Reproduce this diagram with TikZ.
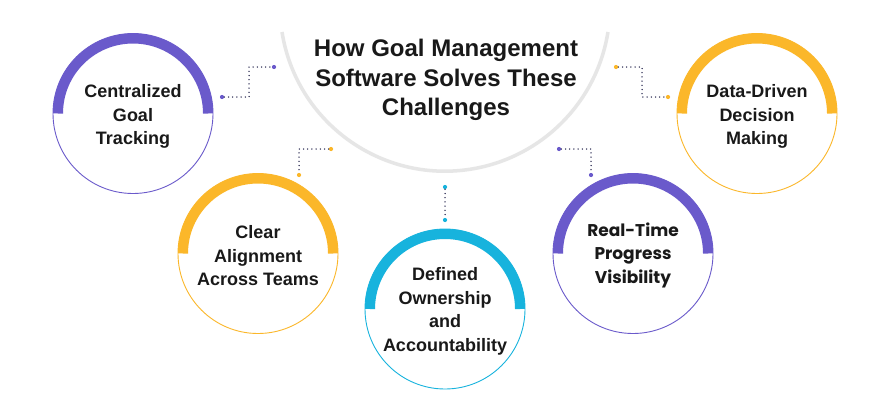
\documentclass[tikz,border=0pt]{standalone}
\usepackage{fontspec}
\setmainfont{Liberation Sans}
\newfontfamily\popp{Poppins}
\definecolor{purp}{HTML}{6A5ACB}
\definecolor{yel}{HTML}{FBB72A}
\definecolor{cyn}{HTML}{17B3DD}
\definecolor{navy}{HTML}{22224A}
\definecolor{arcgray}{HTML}{E6E6E6}
\tikzset{
  circnode/.style={circle, draw=#1, line width=0.9, minimum size=160, inner sep=0},
  ctext/.style={align=center, inner sep=0, font=\fontsize{18}{23.5}\selectfont\bfseries, text=black!90},
  dotnode/.style={circle, fill=#1, inner sep=0, minimum size=4.2},
  dotline/.style={navy, line width=1.5, line cap=round, dash pattern=on 0pt off 4.2pt},
}
\newcommand{\topband}[2]{%
  \draw[#2, line width=10] ([xshift=-75]#1.center) arc[start angle=180, end angle=360, radius=75];}
\begin{document}
\begin{tikzpicture}[x=1pt,y=-1pt]
\fill[white] (0,0) rectangle (890,415);
\useasboundingbox (0,0) rectangle (890,415);
% big gray arc
\coordinate (arcstart) at (282,32);
\draw[arcgray, line width=3.5] (arcstart) arc[start angle=171, end angle=9, radius=165];
\node[align=center, font=\fontsize{24}{29.5}\selectfont\bfseries, text=black!90] (title) at (446,80)
  {How Goal Management\\Software Solves These\\Challenges};
% circles
\node[circnode=purp] (c1) at (133,113.5) {};
\topband{c1}{purp}
\node[ctext] (t1) at ([yshift=-3]c1.center) {Centralized\\Goal\\Tracking};
\node[circnode=yel] (c2) at (258,253.5) {};
\topband{c2}{yel}
\node[ctext] (t2) at ([yshift=-2.5]c2.center) {Clear\\Alignment\\Across Teams};
\node[circnode=cyn] (c3) at (445,309) {};
\topband{c3}{cyn}
\node[ctext] (t3) at ([yshift=-2.5]c3.center) {Defined\\Ownership\\and\\Accountability};
\node[circnode=purp] (c4) at (633,253.5) {};
\topband{c4}{purp}
\node[ctext, font=\popp\fontsize{17}{23.5}\selectfont\bfseries] (t4) at ([yshift=-1.5]c4.center) {Real-Time\\Progress\\Visibility};
\node[circnode=yel] (c5) at (757,113.5) {};
\topband{c5}{yel}
\node[ctext] (t5) at ([yshift=-3]c5.center) {Data-Driven\\Decision\\Making};
% connectors
\node[dotnode=purp] (d1a) at (222,97) {};
\node[dotnode=purp] (d1b) at (274,67) {};
\draw[dotline] (d1a) -- (249,97) |- (d1b);
\node[dotnode=yel] (d2a) at (331,149) {};
\node[dotnode=yel] (d2b) at (299,175) {};
\draw[dotline] (d2a) -| (d2b);
\node[dotnode=cyn] (d3a) at (445,187) {};
\node[dotnode=cyn] (d3b) at (445,220) {};
\draw[dotline] (d3a) -- (d3b);
\node[dotnode=purp] (d4a) at (559,149) {};
\node[dotnode=purp] (d4b) at (591,175) {};
\draw[dotline] (d4a) -| (d4b);
\node[dotnode=yel] (d5a) at (616,67) {};
\node[dotnode=yel] (d5b) at (668,97) {};
\draw[dotline] (d5a) -- (642,67) |- (d5b);
\end{tikzpicture}
\end{document}
